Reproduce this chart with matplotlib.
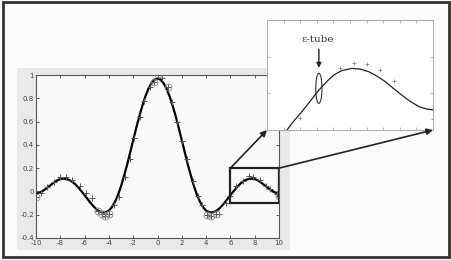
"""Sinc-like regression fit with a zoomed inset showing the epsilon-tube."""
import numpy as np
import matplotlib.pyplot as plt
from matplotlib.patches import Rectangle, Ellipse, ConnectionPatch

plt.rcParams["axes.unicode_minus"] = False

# fitted curve at 0.25 steps
curve_x = np.arange(-10, 10.001, 0.25)
curve_y = [
    -0.02, -0.012, 0.0, 0.018, 0.038, 0.058, 0.078, 0.095, 0.106, 0.11,
    0.107, 0.098, 0.082, 0.06, 0.032, 0.0, -0.032, -0.066, -0.1, -0.13,
    -0.155, -0.172, -0.18, -0.178, -0.165, -0.135, -0.09, -0.03, 0.045, 0.135,
    0.23, 0.335, 0.44, 0.545, 0.645, 0.735, 0.815, 0.88, 0.93, 0.96,
    0.97,
    0.96, 0.93, 0.88, 0.815, 0.735, 0.645, 0.545, 0.44, 0.335, 0.23,
    0.135, 0.045, -0.03, -0.09, -0.135, -0.165, -0.178, -0.18, -0.172, -0.155,
    -0.13, -0.1, -0.066, -0.032, 0.0, 0.032, 0.06, 0.082, 0.098, 0.107,
    0.11, 0.106, 0.095, 0.078, 0.058, 0.038, 0.018, 0.0, -0.012, -0.02,
]

# noisy training samples
sample_x = [-10, -9.6, -9.1, -8.5, -8.0, -7.5, -7.0, -6.4, -5.9, -5.4, -4.9, -4.6,
            -4.3, -4.0, -3.6, -3.2, -2.7, -2.3, -1.9, -1.4, -1.1, -0.6, -0.3, 0.0,
            0.4, 0.9, 1.2, 1.6, 2.0, 2.4, 2.9, 3.3, 3.7, 4.1, 4.4, 4.8, 5.1, 5.6,
            6.0, 6.5, 7.0, 7.5, 7.9, 8.4, 8.9, 9.3, 9.8, 10.0]
sample_y = [-0.05, -0.01, 0.04, 0.08, 0.12, 0.12, 0.10, 0.05, -0.01, -0.06, -0.17, -0.19,
            -0.21, -0.19, -0.12, -0.05, 0.12, 0.28, 0.46, 0.64, 0.78, 0.90, 0.94, 1.01,
            0.97, 0.90, 0.77, 0.60, 0.43, 0.28, 0.09, -0.04, -0.12, -0.20, -0.21, -0.19,
            -0.19, -0.10, -0.04, 0.05, 0.09, 0.13, 0.12, 0.10, 0.05, 0.02, -0.02, -0.04]

# support vectors (circled samples)
sv_x = [-10, -4.9, -4.6, -4.3, -4.0, -0.3, 0.0, 0.9, 4.1, 4.4, 4.8, 10.0]
sv_y = [-0.05, -0.17, -0.19, -0.21, -0.19, 0.94, 1.01, 0.90, -0.20, -0.21, -0.19, -0.04]

# schematic zoom panel (its own coordinates)
inset_x = [6.48, 6.65, 6.84, 7.05, 7.25, 7.45, 7.61, 7.8, 8.05, 8.25, 8.45,
           8.65, 8.85, 9.05, 9.25, 9.45, 9.66, 9.85, 10.0]
inset_y = [-0.1, -0.075, -0.05, -0.02, 0.009, 0.033, 0.05, 0.062, 0.068, 0.066, 0.059,
           0.047, 0.032, 0.013, -0.005, -0.022, -0.036, -0.043, -0.045]
inset_pts_x = [6.8, 7.76, 8.09, 8.41, 8.73, 9.05, 10.0]
inset_pts_y = [-0.066, 0.068, 0.084, 0.08, 0.064, 0.034, -0.07]

fig = plt.figure(figsize=(4.52, 2.60), dpi=100)
fig.patch.set_facecolor("#fbfbfb")

# outer frame and grey matlab-figure panel
fig.add_artist(Rectangle((0.006, 0.01), 0.988, 0.982, transform=fig.transFigure,
                         fill=False, lw=2, ec="#333333"))
fig.add_artist(Rectangle((17 / 452, 1 - 250 / 260), 273 / 452, 182 / 260,
                         transform=fig.transFigure, fc="#e9e9e9", ec="none", zorder=0))

ax = fig.add_axes([36 / 452, 1 - 238 / 260, 243 / 452, 163 / 260])
ax.set_facecolor("#fafafa")
ax.plot(curve_x, curve_y, color="black", lw=1.6, zorder=3)
ax.plot(sample_x, sample_y, "+", color="#555555", ms=4, mew=0.7, zorder=4)
ax.plot(sv_x, sv_y, "o", mfc="none", mec="#888888", ms=5, mew=0.6, zorder=4)
ax.add_patch(Rectangle((6, -0.1), 4, 0.3, fill=False, lw=1.6, ec="#222222", zorder=5))
ax.set_xlim(-10, 10)
ax.set_ylim(-0.4, 1)
ax.set_xticks(np.arange(-10, 11, 2))
ax.set_yticks(np.arange(-0.4, 1.01, 0.2))
ax.set_yticklabels(["-0.4", "-0.2", "0", "0.2", "0.4", "0.6", "0.8", "1"])
ax.tick_params(direction="in", length=2.5, width=0.6, labelsize=5, pad=1.5,
               colors="#444444", top=True, right=True)
for s in ax.spines.values():
    s.set_color("#555555")
    s.set_linewidth(0.8)

ins = fig.add_axes([267 / 452, 1 - 130 / 260, 166 / 452, 110 / 260])
ins.set_facecolor("white")
ins.plot(inset_x, inset_y, color="#222222", lw=0.9)
ins.plot(inset_pts_x, inset_pts_y, "+", color="#777777", ms=3, mew=0.5)
ins.add_patch(Ellipse((7.25, 0.0136), 0.15, 0.082, fill=False, ec="#333333", lw=0.8))
ins.annotate("", xy=(7.25, 0.062), xytext=(7.25, 0.128),
             arrowprops=dict(arrowstyle="-|>", color="#222222", lw=1.0, mutation_scale=7))
ins.text(7.22, 0.147, "\u03b5-tube", family="DejaVu Serif", fontsize=7.5,
         ha="center", va="center", color="#333333")
ins.set_xlim(6, 10)
ins.set_ylim(-0.1, 0.2)
ins.set_xticks(np.arange(6, 10.01, 0.4))
ins.set_yticks(np.arange(-0.1, 0.21, 0.1))
ins.tick_params(direction="in", length=2, width=0.5, colors="#999999",
                top=True, right=True, labelbottom=False, labelleft=False)
for s in ins.spines.values():
    s.set_color("#aaaaaa")
    s.set_linewidth(0.7)

# arrows from the zoom box to the panel corners
for xa, xb in [(6, 0), (10, 1)]:
    con = ConnectionPatch(xyA=(xa, 0.2), coordsA=ax.transData,
                          xyB=(xb, 0), coordsB=ins.transAxes,
                          arrowstyle="-|>", color="#222222", lw=1.2, mutation_scale=9)
    fig.add_artist(con)

fig.savefig("out.png", dpi=100, facecolor=fig.get_facecolor())
